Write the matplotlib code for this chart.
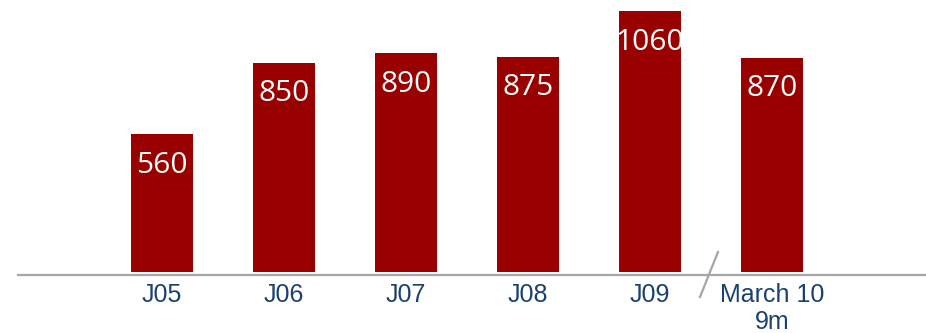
import numpy as np
import matplotlib
matplotlib.use('Agg')
import matplotlib.pyplot as plt
from matplotlib.transforms import blended_transform_factory

# data
categories = ['J05', 'J06', 'J07', 'J08', 'J09', 'March 10\n9m']
values = [560, 850, 890, 875, 1060, 870]

bar_color = '#990000'
label_color = '#1B4170'
axis_gray = '#A6A6A6'

fig = plt.figure(figsize=(9.26, 3.33), dpi=100)
ax = fig.add_axes([0, 0, 1, 1])

x = np.arange(len(categories))
# x=0 sits at ~162px, one category step ~122px; y=0 at 61px from bottom
x0_px = 162.0
px_per_x = 122.0
px_per_y = 0.246
ax.set_xlim(-x0_px / px_per_x, (926 - x0_px) / px_per_x)
ax.set_ylim(-61 / px_per_y, (333 - 61) / px_per_y)
ax.axis('off')

ax.bar(x, values, width=62 / px_per_x, color=bar_color)

for xi, v in zip(x, values):
    ax.annotate(str(v), (xi, v), xytext=(0, -31 * 0.72), textcoords='offset points',
                ha='center', va='center', color='white', fontsize=21.5,
                family='Open Sans')

trans = blended_transform_factory(ax.transData, ax.transAxes)
for xi, lab in zip(x, categories):
    ax.text(xi, 50 / 333, lab, transform=trans, ha='center', va='top',
            color=label_color, fontsize=18, family='Liberation Sans',
            linespacing=1.15)

# baseline and break mark
ax.plot([18 / 926, 1], [58 / 333, 58 / 333], color=axis_gray, lw=1.6,
        transform=ax.transAxes, clip_on=False)
ax.plot([700 / 926, 718 / 926], [36 / 333, 81 / 333], color=axis_gray, lw=1.6,
        transform=ax.transAxes)

fig.savefig('out.png', dpi=100)
